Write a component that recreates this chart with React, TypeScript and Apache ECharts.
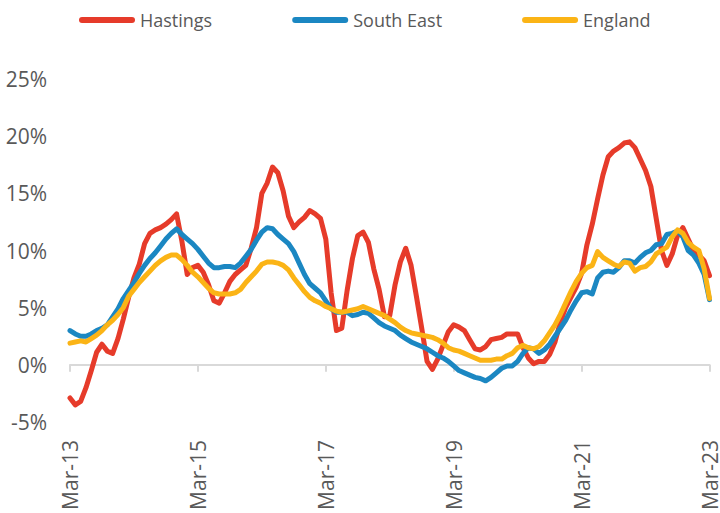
import React, { useEffect, useRef } from "react";
import * as echarts from "echarts";

const MONTHS = ["Jan", "Feb", "Mar", "Apr", "May", "Jun", "Jul", "Aug", "Sep", "Oct", "Nov", "Dec"];
const START_YEAR = 2013;
const START_MONTH = 2; // March
const N_POINTS = 121;

const categories: string[] = [];
for (let k = 0; k < N_POINTS; k++) {
  const m = (START_MONTH + k) % 12;
  const y = START_YEAR + Math.floor((START_MONTH + k) / 12);
  categories.push(`${MONTHS[m]}-${String(y % 100).padStart(2, "0")}`);
}

const seriesNames = ["Hastings", "South East", "England"];

const hastings = [
  -2.9, -3.5, -3.2, -2.0, -0.5, 1.1, 1.8, 1.2, 1.0, 2.3, 4.0, 5.9,
  7.6, 8.8, 10.6, 11.5, 11.8, 12.0, 12.3, 12.7, 13.2, 10.8, 7.9, 8.5,
  8.7, 8.1, 7.0, 5.6, 5.4, 6.3, 7.3, 7.9, 8.3, 8.7, 10.2, 12.0,
  15.0, 15.9, 17.3, 16.8, 15.2, 13.0, 12.0, 12.5, 12.9, 13.5, 13.2, 12.8,
  11.0, 6.3, 3.0, 3.2, 6.5, 9.3, 11.3, 11.6, 10.7, 8.4, 6.6, 4.2,
  4.3, 7.0, 9.0, 10.2, 8.7, 6.0, 3.2, 0.3, -0.4, 0.5, 1.7, 2.9,
  3.5, 3.3, 3.0, 2.2, 1.4, 1.3, 1.6, 2.2, 2.3, 2.4, 2.7, 2.7,
  2.7, 1.5, 0.6, 0.1, 0.3, 0.3, 0.9, 2.0, 3.7, 5.0, 5.9, 6.8,
  8.0, 10.5, 12.3, 14.5, 16.6, 18.2, 18.7, 19.0, 19.4, 19.5, 19.0, 18.0,
  17.0, 15.6, 12.8, 10.0, 8.7, 9.7, 11.3, 12.0, 11.0, 10.0, 9.6, 9.1,
  7.8,
];

const southEast = [
  3.0, 2.7, 2.5, 2.5, 2.7, 3.0, 3.2, 3.5, 4.2, 4.9, 5.8, 6.5,
  7.2, 8.0, 8.7, 9.3, 9.8, 10.4, 11.0, 11.5, 11.9, 11.4, 11.0, 10.6,
  10.1, 9.5, 8.9, 8.5, 8.5, 8.6, 8.6, 8.5, 8.9, 9.5, 10.1, 10.9,
  11.6, 12.0, 11.9, 11.4, 11.0, 10.6, 9.9, 8.9, 7.9, 7.1, 6.7, 6.3,
  5.6, 4.9, 4.6, 4.6, 4.6, 4.3, 4.4, 4.6, 4.5, 4.1, 3.7, 3.4,
  3.2, 3.0, 2.6, 2.3, 2.0, 1.8, 1.6, 1.4, 1.1, 0.8, 0.6, 0.3,
  -0.1, -0.5, -0.7, -0.9, -1.1, -1.2, -1.4, -1.1, -0.7, -0.3, -0.1, -0.1,
  0.3, 1.0, 1.5, 1.4, 1.0, 1.3, 1.8, 2.5, 3.2, 3.9, 4.8, 5.6,
  6.3, 6.4, 6.2, 7.6, 8.1, 8.2, 8.1, 8.5, 9.1, 9.1, 8.9, 9.4,
  9.8, 10.0, 10.5, 10.6, 11.4, 11.5, 11.7, 11.2, 10.0, 9.6, 8.9, 7.9,
  5.7,
];

const england = [
  1.9, 2.0, 2.1, 2.0, 2.3, 2.6, 3.0, 3.5, 3.9, 4.4, 5.0, 6.0,
  6.6, 7.2, 7.7, 8.2, 8.7, 9.1, 9.4, 9.6, 9.6, 9.2, 8.7, 8.1,
  7.7, 7.2, 6.7, 6.3, 6.2, 6.2, 6.2, 6.3, 6.6, 7.2, 7.7, 8.2,
  8.8, 9.0, 9.0, 8.9, 8.7, 8.3, 7.6, 7.0, 6.4, 5.9, 5.6, 5.4,
  5.1, 4.9, 4.7, 4.6, 4.7, 4.8, 4.9, 5.1, 4.9, 4.7, 4.5, 4.3,
  4.0, 3.7, 3.3, 3.0, 2.8, 2.7, 2.6, 2.5, 2.4, 2.2, 1.9, 1.5,
  1.3, 1.2, 1.0, 0.8, 0.6, 0.4, 0.4, 0.4, 0.5, 0.5, 0.8, 1.0,
  1.5, 1.7, 1.5, 1.4, 1.6, 2.1, 2.8, 3.5, 4.4, 5.4, 6.4, 7.3,
  8.0, 8.5, 8.7, 9.9, 9.4, 9.1, 8.8, 8.6, 9.0, 8.9, 8.2, 8.5,
  8.6, 9.0, 9.7, 10.0, 10.3, 11.2, 11.8, 11.5, 10.7, 10.3, 10.0, 8.4,
  5.8,
];

const yTicks = { min: -5, max: 25, interval: 5 };
const colors = ["#E63B2A", "#1B87C2", "#FBB416"];
const FONT = "'Open Sans', 'Liberation Sans', sans-serif";
const TEXT_COLOR = "#595959";

export default function App() {
  const ref = useRef<HTMLDivElement>(null);

  useEffect(() => {
    if (!ref.current) return;
    const chart = echarts.init(ref.current, undefined, { renderer: "svg" });
    const data = [hastings, southEast, england];
    chart.setOption({
      animation: false,
      backgroundColor: "#ffffff",
      textStyle: { fontFamily: FONT },
      legend: {
        left: 79,
        top: 10,
        padding: 0,
        itemWidth: 56,
        itemHeight: 6,
        itemGap: 80,
        icon: "path://M3,0L53,0A3,3,0,0,1,53,6L3,6A3,3,0,0,1,3,0Z",
        textStyle: { fontFamily: FONT, fontSize: 18, color: TEXT_COLOR, lineHeight: 20 },
        data: seriesNames,
      },
      grid: { left: 70, right: 8, top: 79, bottom: 91, containLabel: false },
      xAxis: [
        {
          type: "category",
          data: categories,
          boundaryGap: false,
          position: "bottom",
          axisLine: { show: false, onZero: false },
          axisTick: { show: false },
          splitLine: { show: false },
          axisLabel: {
            interval: 23,
            rotate: 90,
            margin: 18,
            fontSize: 21,
            color: TEXT_COLOR,
            fontFamily: FONT,
          },
        },
        {
          type: "category",
          data: categories,
          boundaryGap: false,
          position: "top",
          axisLine: {
            show: true,
            onZero: true,
            onZeroAxisIndex: 0,
            lineStyle: { color: "#D9D9D9", width: 2 },
          },
          axisTick: {
            show: true,
            interval: 23,
            inside: true,
            length: 7,
            lineStyle: { color: "#D9D9D9", width: 2 },
          },
          axisLabel: { show: false },
          splitLine: { show: false },
        },
      ],
      yAxis: {
        type: "value",
        min: yTicks.min,
        max: yTicks.max,
        interval: yTicks.interval,
        axisLine: { show: false },
        axisTick: { show: false },
        splitLine: { show: false },
        axisLabel: {
          formatter: "{value}%",
          fontSize: 21,
          margin: 23,
          color: TEXT_COLOR,
          fontFamily: FONT,
        },
      },
      series: seriesNames.map((name, idx) => ({
        name,
        type: "line",
        xAxisIndex: 0,
        data: data[idx],
        showSymbol: false,
        symbol: "none",
        smooth: false,
        color: colors[idx],
        lineStyle: { width: 5, color: colors[idx], cap: "round", join: "round" },
        emphasis: { disabled: true },
        z: 2 + idx,
      })),
    });
    return () => chart.dispose();
  }, []);

  return (
    <div
      ref={ref}
      style={{ position: "fixed", left: 0, top: 0, width: 720, height: 513, background: "#fff" }}
    />
  );
}
